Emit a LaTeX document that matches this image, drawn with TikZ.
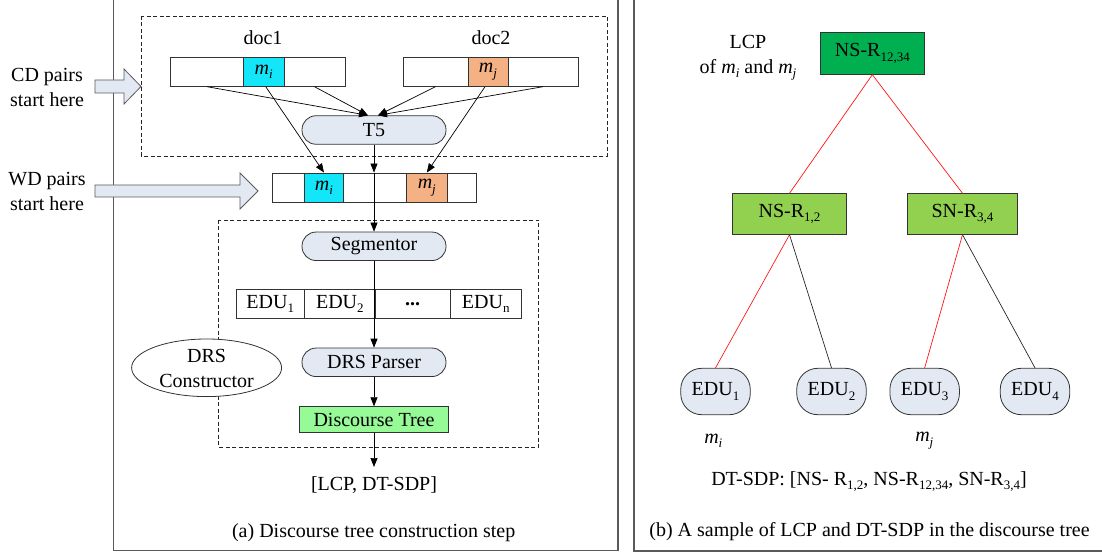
\documentclass[tikz,border=0pt]{standalone}
\usepackage{fontspec}
\setmainfont{Liberation Serif}
\usetikzlibrary{arrows.meta,calc,shapes.geometric}
\definecolor{lightbg}{RGB}{227,233,243}
\definecolor{cyanc}{RGB}{20,230,250}
\definecolor{orangec}{RGB}{244,177,131}
\definecolor{dtgreen}{RGB}{150,250,150}
\definecolor{darkgreen}{RGB}{0,176,80}
\definecolor{lightgreen}{RGB}{146,208,80}
\definecolor{framegray}{RGB}{90,90,90}
\definecolor{linered}{RGB}{255,20,20}
\newcommand\sbs[1]{\raisebox{-0.22em}{\fontsize{13}{13}\selectfont #1}}
\newcommand\mvar[1]{\textit{m}\sbs{\textit{#1}}}
\begin{document}
\begin{tikzpicture}[x=1pt,y=-1pt,
  every node/.style={font=\fontsize{20}{25}\selectfont, inner sep=0pt},
  cell/.style={draw=black!80, line width=0.8pt, minimum height=29pt},
  proc/.style={draw=black!80, line width=0.8pt, fill=lightbg, rounded corners=14pt, minimum width=144pt, minimum height=28.5pt},
  tbox/.style={draw=black!80, line width=0.8pt, minimum height=40.6pt},
  edu/.style={draw=black!80, line width=0.8pt, fill=lightbg, rounded corners=21pt, minimum width=69.5pt, minimum height=46.4pt},
  arr/.style={line width=0.7pt, -{Triangle[length=9pt,width=7pt]}},
  dashbox/.style={draw=black!85, line width=0.9pt, dash pattern=on 4pt off 2.5pt},
  blockarrow/.style={draw=framegray, line width=0.8pt, fill=lightbg, line join=miter},
  redl/.style={draw=linered, line width=0.7pt},
  blackl/.style={draw=black!85, line width=0.7pt}]
\useasboundingbox (0,0) rectangle (1102,553);
% frames
\draw[framegray, line width=1.3pt] (113.5,-2) -- (113.5,550.5) -- (618,550.5) -- (618,-2);
\draw[framegray, line width=1.3pt] (634,-2) -- (634,551) -- (1104,551);
% dashed boxes
\draw[dashbox] (141,16) rectangle (607,156);
\draw[dashbox] (218.5,220) rectangle (538.8,447);
% block arrows
\draw[blockarrow] (95,80) -- (124,80) -- (124,69) -- (141,86.5) -- (124,104) -- (124,93) -- (95,93) -- cycle;
\draw[blockarrow] (95,185) -- (240,185) -- (240,173) -- (258,191) -- (240,209) -- (240,197) -- (95,197) -- cycle;
\node[align=center] (cdtxt) at (47,87.5) {CD pairs\\start here};
\node[align=center] (wdtxt) at (47,191) {WD pairs\\start here};
% doc labels
\node (doc1) at (263,38) {doc1};
\node (doc2) at (491,38) {doc2};
% doc1 bar
\node[cell, minimum width=72.9pt] (d1a) at (207.05,71.8) {};
\node[cell, minimum width=40.5pt, fill=cyanc] (d1m) at (263.75,71.8) {\mvar{i}};
\node[cell, minimum width=61pt] (d1b) at (314.5,71.8) {};
% doc2 bar
\node[cell, minimum width=65pt] (d2a) at (435.5,71.8) {};
\node[cell, minimum width=40pt, fill=orangec] (d2m) at (488,71.8) {\mvar{j}};
\node[cell, minimum width=70pt] (d2b) at (543,71.8) {};
% T5
\node[proc] (t5) at (374,130) {T5};
% WD bar
\node[cell, minimum width=31.6pt] (wa) at (288.6,187.5) {};
\node[cell, minimum width=39.2pt, fill=cyanc] (wm) at (324,187.5) {\mvar{i}};
\node[cell, minimum width=63pt] (wc) at (375.1,187.5) {};
\node[cell, minimum width=40.4pt, fill=orangec] (wn) at (426.8,187.5) {\mvar{j}};
\node[cell, minimum width=29pt] (we) at (461.5,187.5) {};
% arrows to T5
\draw[arr] (d1a.south) -- ([xshift=-6pt]t5.north);
\draw[arr] (d1b.south) -- ([xshift=-6pt]t5.north);
\draw[arr] (d2a.south) -- ([xshift=4pt]t5.north);
\draw[arr] (d2b.south) -- ([xshift=4pt]t5.north);
% mention arrows
\draw[arr] ([xshift=2pt]d1m.south) -- (wm.north);
\draw[arr] ([xshift=-3pt]d2m.south) -- (wn.north);
% Segmentor etc
\node[proc] (seg) at (374,246.3) {Segmentor};
\coordinate (wdtop) at (t5.south |- wc.north);
\draw[arr] (t5.south) -- (wdtop);
\draw[arr] (wdtop) -- (seg.north);
% EDU bar
\node[cell, minimum width=68.4pt] (e1) at (270.2,304.2) {EDU\sbs{1}};
\node[cell, minimum width=70.9pt] (e2) at (339.85,304.2) {EDU\sbs{2}};
\node[cell, minimum width=74.7pt] (e3) at (412.65,304.2) {\textbf{...}};
\node[cell, minimum width=71.4pt] (e4) at (485.7,304.2) {EDU\sbs{n}};
\node[proc] (drs) at (374,362.3) {DRS Parser};
\draw[arr] (seg.south) -- (drs.north);
\node[draw=black!80, line width=0.8pt, fill=dtgreen, minimum width=149pt, minimum height=25.6pt] (dt) at (374,419.5) {Discourse Tree};
\draw[arr] (drs.south) -- (dt.north);
\coordinate (outtip) at (374,467);
\draw[arr] (dt.south) -- (outtip);
\node (out) at (374,485) {[LCP, DT-SDP]};
\node[draw=black!80, line width=0.8pt, fill=white, ellipse, minimum width=150pt, minimum height=57.6pt] (drsc) at (206.6,367.8) {};
\node[align=center, font=\fontsize{20}{25.5}\selectfont] (drsctxt) at (206.6,368.5) {DRS\\Constructor};
\node (capa) at (373.7,533) {(a) Discourse tree construction step};
% right panel
\node[align=center] (lcp) at (748,57.5) {LCP\\of \mvar{i} and \mvar{j}};
\node[tbox, fill=darkgreen, minimum width=104.7pt, minimum height=42pt] (root) at (872.35,53.3) {NS-R\sbs{12,34}};
\node[tbox, fill=lightgreen, minimum width=113.6pt] (n12) at (789.5,214) {NS-R\sbs{1,2}};
\node[tbox, fill=lightgreen, minimum width=110.4pt] (n34) at (962.5,214) {SN-R\sbs{3,4}};
\node[edu] (u1) at (715.5,391.5) {EDU\sbs{1}};
\node[edu] (u2) at (831.5,391.5) {EDU\sbs{2}};
\node[edu] (u3) at (924.65,391.5) {EDU\sbs{3}};
\node[edu] (u4) at (1035,391.5) {EDU\sbs{4}};
\draw[redl] (root.south) -- (n12.north);
\draw[redl] (root.south) -- (n34.north);
\draw[redl] (n12.south) -- (u1.north);
\draw[blackl] (n12.south) -- (u2.north);
\draw[redl] (n34.south) -- (u3.north);
\draw[blackl] (n34.south) -- (u4.north);
\node (mi) at (713.3,440.7) {\mvar{i}};
\node (mj) at (924.3,440.7) {\mvar{j}};
\node (dtsdp) at (869,481.7) {DT-SDP: [NS- R\sbs{1,2}, NS-R\sbs{12,34}, SN-R\sbs{3,4}]};
\node (capb) at (869.5,531.7) {(b) A sample of LCP and DT-SDP in the discourse tree};
\end{tikzpicture}
\end{document}
